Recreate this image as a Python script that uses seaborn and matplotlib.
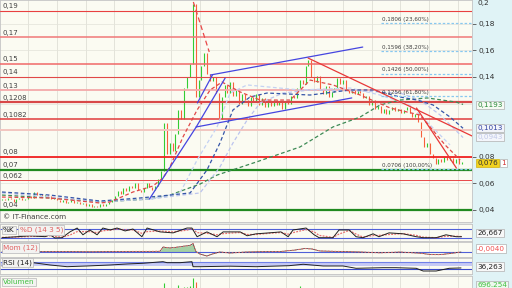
import numpy as np
import matplotlib
matplotlib.use("Agg")
import matplotlib.pyplot as plt
import matplotlib.transforms as mtransforms
import seaborn as sns

# ---------------- data ----------------
close = [
 0.048,0.047,0.049,0.048,0.046,0.048,0.049,0.047,0.048,0.050,
 0.049,0.053,0.051,0.052,0.050,0.051,0.050,0.048,0.049,0.047,
 0.046,0.047,0.045,0.046,0.047,0.045,0.046,0.044,0.045,0.043,
 0.044,0.042,0.043,0.042,0.044,0.043,0.044,0.046,0.047,0.050,
 0.054,0.052,0.056,0.054,0.058,0.056,0.060,0.055,0.053,0.056,
 0.060,0.057,0.055,0.058,0.063,0.069,0.105,0.082,0.090,0.084,
 0.097,0.115,0.108,0.132,0.140,0.150,0.195,0.125,0.138,0.148,
 0.158,0.142,0.137,0.140,0.128,0.108,0.125,0.134,0.128,0.136,
 0.126,0.130,0.120,0.127,0.123,0.118,0.125,0.121,0.127,0.119,
 0.124,0.117,0.122,0.118,0.123,0.119,0.121,0.116,0.122,0.120,
 0.126,0.124,0.132,0.138,0.135,0.148,0.153,0.140,0.136,0.141,
 0.131,0.127,0.133,0.125,0.129,0.132,0.139,0.135,0.138,0.131,
 0.128,0.131,0.127,0.130,0.128,0.124,0.126,0.119,0.123,0.116,
 0.118,0.113,0.116,0.112,0.115,0.117,0.114,0.116,0.113,0.115,
 0.117,0.113,0.110,0.112,0.106,0.095,0.087,0.090,0.082,0.079,
 0.074,0.078,0.076,0.080,0.077,0.079,0.075,0.078,0.074,0.0761]
open_first = 0.0475

volume = [
 1.2,0.8,1.0,0.9,0.7,1.1,1.3,0.8,0.9,1.5, 1.2,2.5,1.4,1.0,0.9,1.1,0.8,0.7,0.9,0.8,
 0.7,0.9,0.6,0.8,0.7,0.6,0.9,0.7,0.8,0.6, 0.7,0.9,0.8,0.6,0.9,0.7,1.0,1.2,1.5,2.0,
 2.8,2.2,3.0,2.4,3.2,2.6,3.5,2.8,2.0,2.4, 3.0,2.5,2.2,2.8,3.6,4.2,6.9,4.5,4.0,3.8,
 4.4,6.1,4.8,5.2,5.5,5.8,9.0,7.3,4.6,4.2, 4.8,3.9,3.5,3.2,3.6,4.4,3.4,3.0,2.8,3.1,
 2.6,2.4,2.7,2.2,2.0,2.3,2.1,1.9,2.2,1.8, 2.0,1.7,1.9,1.6,1.8,1.7,1.9,1.5,1.8,2.0,
 2.4,2.8,3.5,5.7,3.8,4.6,4.9,3.6,2.8,3.0, 2.4,2.2,2.5,2.0,2.1,2.6,3.0,2.4,2.2,1.9,
 1.8,2.0,1.7,1.9,1.6,1.8,1.7,2.1,1.9,2.2, 1.8,2.0,1.7,1.6,1.8,1.5,1.7,1.6,1.5,1.7,
 1.8,1.6,2.0,1.9,2.4,3.5,3.9,2.8,3.2,2.6, 2.9,2.2,2.0,1.8,1.9,1.7,1.6,1.5,1.4,0.7]

# moving averages (sparse vertices: bar index, value)
ma_green_idx = [0, 16.6, 33.9, 51.2, 58.1, 68.5, 74.4, 87.9, 103.1, 114.5, 123.9, 130.8, 137.7, 147.1, 157.1, 159.5]
ma_green_val = [0.0509, 0.0487, 0.0457, 0.0479, 0.0509, 0.0592, 0.0660, 0.0758, 0.0872, 0.1023, 0.1098, 0.1189, 0.1226, 0.1242, 0.1211, 0.1193]
ma_blue_idx = [0, 16.6, 33.9, 47.8, 58.1, 65.1, 70.9, 75.4, 79.9, 85.8, 91.7, 106.6, 120.4, 128.4, 137.7, 143.6, 149.1, 155, 159.5]
ma_blue_val = [0.0532, 0.0509, 0.0464, 0.0487, 0.0509, 0.0525, 0.0698, 0.0902, 0.1151, 0.1249, 0.1279, 0.1264, 0.1302, 0.1302, 0.1249, 0.1226, 0.1189, 0.1098, 0.1013]
ma_lav_idx = [0, 16.6, 33.9, 51.2, 68.5, 75.4, 79.9, 84.8, 89.3, 97.2, 106.6, 123.9, 137.7, 144.6, 151.6, 159.5]
ma_lav_val = [0.0525, 0.0494, 0.0457, 0.0479, 0.0525, 0.0721, 0.0902, 0.1075, 0.1204, 0.1279, 0.1302, 0.1294, 0.1279, 0.1226, 0.1113, 0.0943]
ma_lb_idx = [51.2, 61.6, 67.5, 74.4, 78.9, 84.8, 103.1, 120.4, 130.8, 141, 148.1, 155]
ma_lb_val = [0.0479, 0.0525, 0.0774, 0.1023, 0.1279, 0.1340, 0.1302, 0.1317, 0.1264, 0.1189, 0.1038, 0.0887]
ma_red_idx = [0, 16.6, 33.9, 37.4, 45.3, 52.2, 55.7, 58.1, 62.6, 67.5, 72, 76.1, 82.4, 89.3, 99.7, 106.6, 114.5, 123.9, 134.3, 144.6, 148.1, 153.3, 158.5]
ma_red_val = [0.0494, 0.0487, 0.0449, 0.0457, 0.0532, 0.0577, 0.0638, 0.0721, 0.0947, 0.1151, 0.1302, 0.1362, 0.1287, 0.1226, 0.1226, 0.1377, 0.1340, 0.1264, 0.1166, 0.1113, 0.1023, 0.0887, 0.0774]

# trend lines: (idx0, v0, idx1, v1)
blue_lines = [(51.0, 0.0479, 67.2, 0.1023), (67.6, 0.1204, 72.8, 0.1415),
              (67.2, 0.1023, 77.2, 0.1392), (72.1, 0.1415, 124.8, 0.1626),
              (67.2, 0.1023, 121.0, 0.1242)]
red_lines = [(105.9, 0.1543, 162.6, 0.0955), (143.4, 0.1166, 157.2, 0.0713)]
red_dash_line = (66.2, 0.1966, 71.7, 0.1589)

# horizontal levels
level_vals = [0.19, 0.17, 0.15, 0.14, 0.13, 0.1208, 0.1082, 0.100, 0.08, 0.062, 0.07, 0.04]
level_cols = ['#e84040', '#f07878', '#f06868', '#e04848', '#f4aaaa', '#d84848', '#e03c3c',
              '#f3c6c0', '#f02020', '#e84848', '#208a20', '#208a20']
level_lws = [0.8, 1.1, 1.1, 0.8, 1.3, 1.6, 1.1, 1.4, 1.3, 0.7, 1.6, 1.6]
left_label_vals = [0.19, 0.17, 0.15, 0.14, 0.13, 0.1208, 0.1082, 0.08, 0.07, 0.062, 0.04]
left_labels = ['0,19', '0,17', '0,15', '0,14', '0,13', '0,1208', '0,1082', '0,08', '0,07', '0,062', '0,04']

fib_vals = [0.1806, 0.1596, 0.1426, 0.1256, 0.0706]
fib_labels = ['0,1806 (23,60%)', '0,1596 (38,20%)', '0,1426 (50,00%)', '0,1256 (61,80%)', '0,0706 (100,00%)']
fib_start = 131.1

right_ticks = [0.18, 0.16, 0.14, 0.08, 0.06, 0.04]
right_tick_labels = ['0,18', '0,16', '0,14', '0,08', '0,06', '0,04']

# indicators (sparse)
stk_idx = [0, 5.2, 9.7, 14.9, 16.6, 18.3, 20.8, 23.5, 26, 28, 30.4, 32.9, 34.9, 37.4, 39.8,
           42.6, 45.3, 48.4, 50.2, 54.7, 59.2, 64, 65.7, 67.5, 70.9, 74.4, 76.5, 82.4, 84.8,
           87.9, 92.4, 96.5, 99, 100.7, 105.2, 108, 109.7, 114.5, 116.6, 120.1, 122.5, 124.9,
           128.4, 130.4, 133.9, 138.8, 143.3, 145.7, 150.2, 153.6, 157.1, 159]
stk_k = [20, 26.7, 33, 27, 40, 18, 20, 60, 86.7, 40, 73.3, 40, 86.7, 73.3, 86.7, 66.7, 80, 26.7,
         86.7, 60, 53.3, 86.7, 86.7, 26.7, 60, 26.7, 60, 60, 33.3, 46.7, 53.3, 60, 26.7, 73.3,
         86.7, 40, 20, 20, 73.3, 73.3, 26.7, 20, 46.7, 26.7, 53.3, 46.7, 26.7, 20, 20, 40, 26.7, 26.667]
stk_d = [22, 24, 29, 30, 33, 28, 24, 38, 62, 62, 62, 55, 68, 72, 80, 74, 74, 50, 62, 66,
         60, 72, 84, 55, 50, 40, 48, 56, 42, 42, 50, 56, 44, 55, 76, 60, 36, 22, 45, 70,
         45, 24, 35, 36, 42, 48, 36, 24, 20, 30, 30, 28]

mom_idx = [0, 11.4, 20, 30.4, 40.8, 51.2, 54.7, 55.7, 58.1, 60.9, 63.3, 65, 66.1, 67.1, 68.5,
           70.9, 72.7, 75.4, 78.9, 84.1, 89.3, 96.2, 101.4, 104.8, 107.3, 110, 117, 123.9,
           130.8, 137.7, 144.6, 148.1, 151.6, 155, 158.8]
mom_val = [0, 0, 0.002, -0.001, 0.002, 0.004, 0.006, 0.064, 0.051, 0.064, 0.078, 0.085, 0.112,
           0.002, -0.032, -0.059, -0.032, -0.004, -0.018, -0.005, 0.0, 0.002, 0.023, 0.044, 0.037,
           0.010, 0.003, -0.004, -0.015, -0.005, -0.020, -0.038, -0.040, -0.025, -0.004]

rsi_idx = [0, 10.7, 16.6, 22.5, 29.4, 37.4, 43.3, 48.8, 55.7, 57.1, 61.6, 65.7, 66.1, 68.5, 78.9,
           87.9, 99.3, 104.2, 111.1, 118, 122.5, 131.8, 136.3, 143.3, 145.7, 150.2, 154.7, 158.8]
rsi_val = [48, 67.8, 54, 43.8, 48, 54, 60, 64.2, 73.8, 67.8, 67.8, 73.8, 43.8, 43.8, 46.8, 43.8,
           49.8, 58.2, 48, 48, 34.2, 37.8, 37.8, 34.2, 18, 18, 34.2, 36.263]

# ---------------- style ----------------
sns.set_style("white")
plt.rcParams['font.family'] = ['DejaVu Sans']

W, H = 512, 288
fig = plt.figure(figsize=(5.12, 2.88), dpi=100, facecolor='#e4e7e4')

def rect(x0, y0, x1, y1):
    return [x0 / W, 1 - y1 / H, (x1 - x0) / W, (y1 - y0) / H]

def fp(x, y):
    return (x / W, 1 - y / H)

fig.add_artist(plt.Rectangle((472 / W, 0), 40 / W, 1, transform=fig.transFigure,
                             color='#e0f3f6', zorder=-1))

XL = (-0.69, 162.6)
grid_x = np.arange(9.1, 162, 9.9)
BG = '#fbfbf2'

def style_panel(a):
    a.set_facecolor(BG)
    a.set_xlim(*XL)
    a.set_xticks(grid_x)
    a.tick_params(axis='x', length=0, labelbottom=False)
    a.grid(True, axis='x', color='#e3e3da', lw=0.7)
    a.set_axisbelow(True)
    for s in a.spines.values():
        s.set_color('#c4c4c4')
        s.set_linewidth(0.6)

# ---------------- main panel ----------------
ax = fig.add_axes(rect(0, 0, 472, 222))
style_panel(ax)
ax.set_ylim(0.03057, 0.19811)
for g in [0.18, 0.16, 0.14, 0.12, 0.10, 0.08, 0.06]:
    ax.axhline(g, color='#e6e6dd', lw=0.6, zorder=0.5)

c = np.array(close)
prev = np.concatenate([[open_first], c[:-1]])
idx = np.arange(len(c))
up = c >= prev
ax.vlines(idx[up], prev[up], c[up], color='#33cc33', lw=0.8, zorder=2)
ax.vlines(idx[~up], c[~up], prev[~up], color='#f8603c', lw=0.8, zorder=2)

for v, col, lw in zip(level_vals, level_cols, level_lws):
    ax.axhline(v, color=col, lw=lw, zorder=3)

dash = (0, (3, 2))
sns.lineplot(x=ma_green_idx, y=ma_green_val, ax=ax, color='#3d8a55', lw=0.9, linestyle=dash, zorder=4)
sns.lineplot(x=ma_lav_idx, y=ma_lav_val, ax=ax, color='#bcc4ee', lw=0.9, linestyle=dash, zorder=4)
sns.lineplot(x=ma_lb_idx, y=ma_lb_val, ax=ax, color='#c4d2f2', lw=0.9, linestyle=dash, zorder=4)
sns.lineplot(x=ma_blue_idx, y=ma_blue_val, ax=ax, color='#3555a8', lw=0.9, linestyle=dash, zorder=4)
sns.lineplot(x=ma_red_idx, y=ma_red_val, ax=ax, color='#e04848', lw=0.9, linestyle=dash, zorder=4)

for (i0, v0, i1, v1) in blue_lines:
    sns.lineplot(x=[i0, i1], y=[v0, v1], ax=ax, color='#4545e0', lw=0.9, zorder=5)
for (i0, v0, i1, v1) in red_lines:
    sns.lineplot(x=[i0, i1], y=[v0, v1], ax=ax, color='#e83838', lw=0.9, zorder=5)
i0, v0, i1, v1 = red_dash_line
sns.lineplot(x=[i0, i1], y=[v0, v1], ax=ax, color='#e84848', lw=0.9, linestyle=(0, (4, 2.5)), zorder=5)

for v, s in zip(fib_vals, fib_labels):
    ax.plot([fib_start, XL[1]], [v, v], color='#88c8f0', lw=0.9, linestyle=(0, (2, 1.5)), zorder=4)
    ax.text(fib_start + 0.5, v + 0.0011, s, fontsize=4.1, color='#404040', va='bottom', ha='left', zorder=6)

blend = mtransforms.blended_transform_factory(ax.transAxes, ax.transData)
for v, s in zip(left_label_vals, left_labels):
    ax.text(0.006, v + 0.0012, s, transform=blend, fontsize=5.0, color='#404040',
            va='bottom', ha='left', zorder=6)

ax.yaxis.tick_right()
ax.set_yticks(right_ticks)
ax.set_yticklabels(right_tick_labels)
ax.tick_params(axis='y', length=3, width=0.6, color='#505050', labelsize=5.3,
               labelcolor='#303030', pad=1.5, direction='out')
ax.set_xlabel('')
ax.set_ylabel('')

fig.text(*fp(3, 217), '\u00a9 IT-Finance.com', fontsize=5.2, color='#404040', va='center', ha='left')
fig.text(*fp(477.5, 0.5), '0,2', fontsize=5.3, color='#303030', va='top', ha='left')

def vbox(x, y, s, tc, fc, ec='#b0b0b0', fs=5.2):
    fig.text(*fp(x, y), s, fontsize=fs, color=tc, va='center', ha='left', zorder=10,
             bbox=dict(boxstyle='square,pad=0.2', fc=fc, ec=ec, lw=0.5))

vbox(477, 105, '0,1193', '#2a8a3a', '#f6faf4')
vbox(477, 128, '0,1013', '#3040a0', '#f2f4fa')
vbox(477, 137, '0,0943', '#c0c8e8', '#f4f6fb')
vbox(477, 163, '0,076', '#303030', '#f2d21e', ec='#d0b010')
vbox(501, 163, '1', '#d03030', '#ffffff')

# ---------------- stochastic ----------------
a1 = fig.add_axes(rect(0, 224, 472, 241))
style_panel(a1)
a1.set_ylim(-2.8, 114.5)
a1.set_yticks([])
a1.axhline(80, color='#5060d8', lw=0.8)
a1.axhline(20, color='#5060d8', lw=0.8)
sns.lineplot(x=stk_idx, y=stk_d, ax=a1, color='#e87070', lw=0.9, linestyle=(0, (1.5, 1)))
sns.lineplot(x=stk_idx, y=stk_k, ax=a1, color='#202020', lw=0.7)
a1.set_xlabel(''); a1.set_ylabel('')

# ---------------- momentum ----------------
a2 = fig.add_axes(rect(0, 242, 472, 257))
style_panel(a2)
a2.set_ylim(-0.0726, 0.133)
a2.set_yticks([])
a2.axhline(0, color='#5060d8', lw=0.8)
mi = np.array(mom_idx); mv = np.array(mom_val)
sel = (mi >= 54.7) & (mi <= 67.1)
a2.fill_between(mi[sel], 0, mv[sel], color='#a4d0a4', lw=0)
sns.lineplot(x=mom_idx, y=mom_val, ax=a2, color='#303030', lw=0.5)
sns.lineplot(x=mom_idx, y=mom_val, ax=a2, color='#e87070', lw=0.8, linestyle=(0, (1.5, 1.5)))
a2.set_xlabel(''); a2.set_ylabel('')

# ---------------- RSI ----------------
a3 = fig.add_axes(rect(0, 258, 472, 273.5))
style_panel(a3)
a3.set_ylim(3.1, 95.7)
a3.set_yticks([])
a3.axhspan(50, 70, color='#c6caf4', lw=0)
a3.axhline(70, color='#7080e8', lw=0.8)
a3.axhline(30, color='#3848c8', lw=0.8)
sns.lineplot(x=rsi_idx, y=rsi_val, ax=a3, color='#202020', lw=0.7)
a3.set_xlabel(''); a3.set_ylabel('')

# ---------------- volume ----------------
a4 = fig.add_axes(rect(0, 275.5, 472, 300))
style_panel(a4)
a4.set_ylim(0, 10)
a4.set_yticks([])
vol = np.array(volume)
a4.vlines(idx[up], 0, vol[up], color='#33cc33', lw=0.8)
a4.vlines(idx[~up], 0, vol[~up], color='#f8603c', lw=0.8)

# ---------------- panel labels ----------------
def lbox(x, y, s, tc):
    fig.text(*fp(x, y), s, fontsize=5.2, color=tc, va='center', ha='left', zorder=10,
             bbox=dict(boxstyle='square,pad=0.2', fc='#f3f3f1', ec='#b8b8b8', lw=0.5))

lbox(3, 230, '%K', '#202020')
lbox(19.5, 230, '%D (14 3 5)', '#e06060')
lbox(3, 248, 'Mom (12)', '#e06060')
lbox(3, 262.5, 'RSI (14)', '#202020')
lbox(3, 282, 'Volumen', '#40c040')

vbox(477, 233, '26,667', '#202020', '#f8f8f8')
vbox(477, 248.5, '-0,0040', '#f05050', '#ffffff')
vbox(477, 266.5, '36,263', '#202020', '#f8f8f8')
vbox(477, 285, '696.254', '#40c040', '#eef8ee')

fig.savefig('out.png', dpi=100, facecolor=fig.get_facecolor())
